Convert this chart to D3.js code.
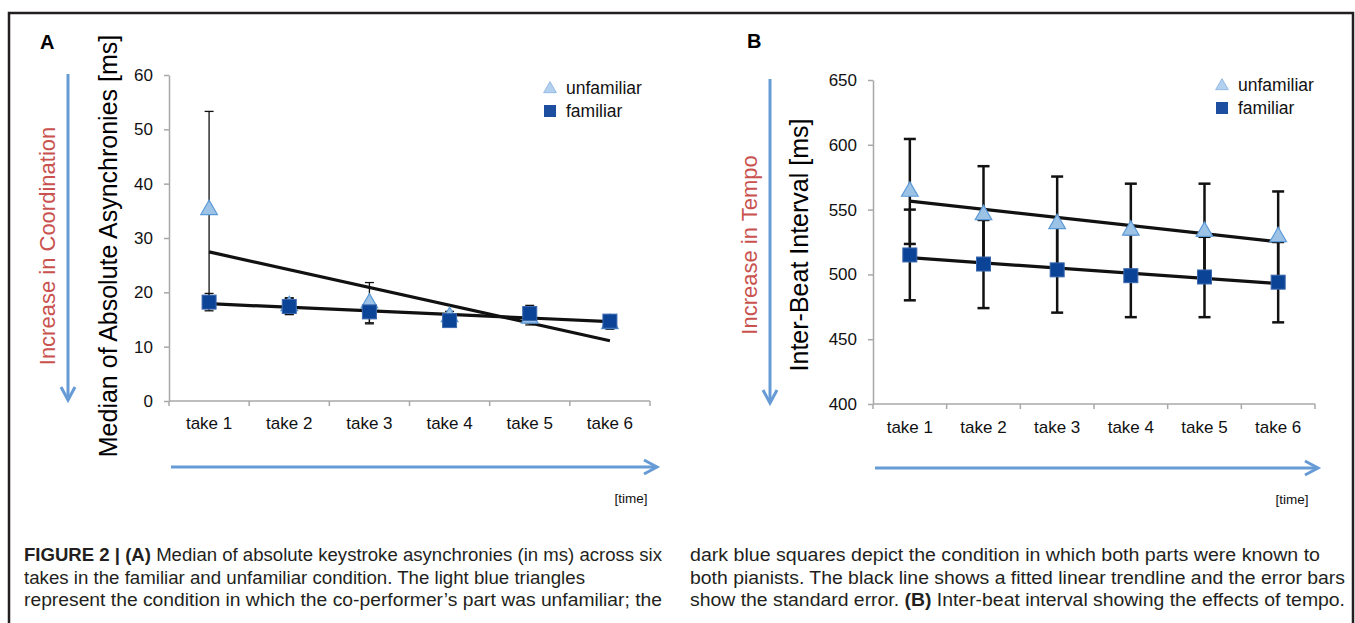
<!DOCTYPE html>
<html>
<head>
<meta charset="utf-8">
<script src="https://cdn.jsdelivr.net/npm/d3@7"></script>
<style>
  body { margin: 0; background: #fff; }
  svg { display: block; font-family: "Liberation Sans", Arial, sans-serif; }
</style>
</head>
<body>
<svg id="fig" width="1355" height="623"></svg>
<script>
// categories
var takes = ["take 1", "take 2", "take 3", "take 4", "take 5", "take 6"];

// panel A: median absolute asynchronies [ms]
var unfamA = [35.2, 17.5, 18.0, 15.5, 15.2, 14.2];
var unfamAErr = [18.1, 1.5, 3.8, 1.0, 1.2, 1.0];
var famA = [18.2, 17.4, 16.4, 14.8, 16.1, 14.7];
var famAErr = [1.6, 1.5, 2.0, 0.8, 1.5, 0.9];
var ticksA = [0, 10, 20, 30, 40, 50, 60];

// panel B: inter-beat interval [ms]
var unfamB = [564, 546, 539, 534, 533, 529];
var unfamBErr = [40.5, 37.5, 36.5, 36, 37, 35];
var famB = [515, 508, 503.5, 499, 498, 494];
var famBErr = [35, 34, 33, 32, 31, 31];
var ticksB = [400, 450, 500, 550, 600, 650];

var captionLeft = [
  [["FIGURE 2 | (A)", true], [" Median of absolute keystroke asynchronies (in ms) across six", false]],
  [["takes in the familiar and unfamiliar condition. The light blue triangles", false]],
  [["represent the condition in which the co-performer\u2019s part was unfamiliar; the", false]]
];
var captionRight = [
  [["dark blue squares depict the condition in which both parts were known to", false]],
  [["both pianists. The black line shows a fitted linear trendline and the error bars", false]],
  [["show the standard error. ", false], ["(B)", true], [" Inter-beat interval showing the effects of tempo.", false]]
];

var darkBlue = "#0b4497";
var lightBlue = "#9cc3e6";
var arrowBlue = "#679bd6";
var red = "#c9524e";
var axisGrey = "#a8a8a8";

var svg = d3.select("#fig");

// frame around the figure
svg.append("path")
    .attr("d", "M9,640 V13 H1353 V640")
    .attr("fill", "none")
    .attr("stroke", "#231f20")
    .attr("stroke-width", 2.5);

function fitLine(vals) {
    var n = vals.length;
    var mx = d3.mean(vals, function (d, i) { return i + 1; });
    var my = d3.mean(vals);
    var sxy = 0, sxx = 0;
    vals.forEach(function (v, i) {
        sxy += (i + 1 - mx) * (v - my);
        sxx += (i + 1 - mx) * (i + 1 - mx);
    });
    var b = sxy / sxx;
    return [my + b * (1 - mx), my + b * (n - mx)];
}

function drawPanel(p) {
    var x = d3.scaleBand().domain(takes).range([p.left, p.right]);
    var y = d3.scaleLinear().domain(p.domain).range([p.bottom, p.top]);
    var cx = function (d) { return x(d) + x.bandwidth() / 2; };
    var g = svg.append("g");

    // panel letter
    g.append("text")
        .attr("x", p.letterX).attr("y", p.letterY)
        .attr("font-size", 20).attr("font-weight", "bold")
        .text(p.letter);

    // y axis
    var ya = g.append("g")
        .attr("transform", "translate(" + p.left + ",0)")
        .call(d3.axisLeft(y).tickValues(p.ticks).tickSize(5).tickSizeOuter(0).tickPadding(11));
    ya.select(".domain").attr("stroke", axisGrey).attr("stroke-width", 1.5);
    ya.selectAll(".tick line").attr("stroke", axisGrey).attr("stroke-width", 1.5);
    ya.selectAll(".tick text")
        .attr("font-size", 17).attr("fill", "#111")
        .attr("font-family", "Liberation Sans, Arial, sans-serif");

    // x axis with ticks on the category boundaries
    g.append("line")
        .attr("x1", p.left).attr("x2", p.right)
        .attr("y1", p.bottom).attr("y2", p.bottom)
        .attr("stroke", axisGrey).attr("stroke-width", 1.5);
    var bounds = takes.map(function (d) { return x(d); }).concat([p.right]);
    g.selectAll(".xtick").data(bounds).enter().append("line")
        .attr("x1", function (d) { return d; }).attr("x2", function (d) { return d; })
        .attr("y1", p.bottom).attr("y2", p.bottom + 5)
        .attr("stroke", axisGrey).attr("stroke-width", 1.5);
    g.selectAll(".xlab").data(takes).enter().append("text")
        .attr("x", cx).attr("y", p.bottom + p.labelDy)
        .attr("text-anchor", "middle").attr("font-size", 17).attr("fill", "#111")
        .text(function (d) { return d; });

    // axis title and red note
    var midY = p.titleY;
    g.append("text")
        .attr("transform", "translate(" + p.titleX + "," + midY + ") rotate(-90)")
        .attr("text-anchor", "middle").attr("font-size", 25).attr("fill", "#000")
        .text(p.title);
    g.append("text")
        .attr("transform", "translate(" + p.noteX + "," + midY + ") rotate(-90)")
        .attr("text-anchor", "middle").attr("font-size", 22).attr("fill", red)
        .text(p.note);

    // direction arrows
    var ax = p.arrowX, ay0 = y.range()[1] - 1, ay1 = y.range()[0] - 1;
    g.append("line").attr("x1", ax).attr("x2", ax).attr("y1", ay0).attr("y2", ay1)
        .attr("stroke", arrowBlue).attr("stroke-width", 3);
    g.append("path")
        .attr("d", "M" + (ax - 7) + "," + (ay1 - 13) + " L" + ax + "," + ay1 + " L" + (ax + 7) + "," + (ay1 - 13))
        .attr("fill", "none").attr("stroke", arrowBlue).attr("stroke-width", 3);
    var hx0 = p.left + 2, hx1 = p.right + p.arrowExtra, hy = p.timeArrowY;
    g.append("line").attr("x1", hx0).attr("x2", hx1).attr("y1", hy).attr("y2", hy)
        .attr("stroke", arrowBlue).attr("stroke-width", 3);
    g.append("path")
        .attr("d", "M" + (hx1 - 13) + "," + (hy - 7) + " L" + hx1 + "," + hy + " L" + (hx1 - 13) + "," + (hy + 7))
        .attr("fill", "none").attr("stroke", arrowBlue).attr("stroke-width", 3);
    g.append("text")
        .attr("x", hx1 - 26).attr("y", hy + 36)
        .attr("text-anchor", "middle").attr("font-size", 13.5).attr("fill", "#111")
        .text("[time]");

    // trendlines
    [p.unfam, p.fam].forEach(function (vals) {
        var f = fitLine(vals);
        g.append("line")
            .attr("x1", cx(takes[0])).attr("y1", y(f[0]))
            .attr("x2", cx(takes[takes.length - 1])).attr("y2", y(f[1]))
            .attr("stroke", "#111").attr("stroke-width", 3.2);
    });

    // error bars
    function errBars(vals, errs) {
        var eb = g.append("g").attr("stroke", "#111").attr("stroke-width", p.errW);
        takes.forEach(function (t, i) {
            var xc = cx(t);
            eb.append("line").attr("x1", xc).attr("x2", xc)
                .attr("y1", y(vals[i] - errs[i])).attr("y2", y(vals[i] + errs[i]));
            [vals[i] - errs[i], vals[i] + errs[i]].forEach(function (v) {
                eb.append("line").attr("x1", xc - p.capW / 2).attr("x2", xc + p.capW / 2)
                    .attr("y1", y(v)).attr("y2", y(v));
            });
        });
    }
    errBars(p.unfam, p.unfamErr);
    errBars(p.fam, p.famErr);

    // markers
    var tri = d3.symbol().type(d3.symbolTriangle).size(120);
    g.selectAll(".tri").data(p.unfam).enter().append("path")
        .attr("d", tri)
        .attr("transform", function (d, i) { return "translate(" + cx(takes[i]) + "," + y(d) + ")"; })
        .attr("fill", lightBlue).attr("stroke", "#5d9bd8").attr("stroke-width", 1.2);
    g.selectAll(".sq").data(p.fam).enter().append("rect")
        .attr("x", function (d, i) { return cx(takes[i]) - 7; })
        .attr("y", function (d) { return y(d) - 7; })
        .attr("width", 14).attr("height", 14)
        .attr("fill", darkBlue).attr("stroke", "#3a67ad").attr("stroke-width", 1);

    // legend
    var lg = g.append("g").attr("transform", "translate(" + p.legX + "," + p.legY + ")");
    lg.append("path").attr("d", d3.symbol().type(d3.symbolTriangle).size(70))
        .attr("transform", "translate(0,1)")
        .attr("fill", "#b3d0ee").attr("stroke", "#93b9e3").attr("stroke-width", 1);
    lg.append("text").attr("x", 16).attr("y", 6).attr("font-size", 17.5).attr("fill", "#111").text("unfamiliar");
    lg.append("rect").attr("x", -6).attr("y", 17).attr("width", 12).attr("height", 12)
        .attr("fill", "#1e4ea0");
    lg.append("text").attr("x", 16).attr("y", 29).attr("font-size", 17.5).attr("fill", "#111").text("familiar");
}

drawPanel({
    letter: "A", letterX: 40, letterY: 49,
    left: 169, right: 650, top: 75, bottom: 401,
    domain: [0, 60], ticks: ticksA, labelDy: 28,
    title: "Median of Absolute Asynchronies [ms]", titleX: 117, titleY: 246,
    note: "Increase in Coordination", noteX: 55,
    arrowX: 68, timeArrowY: 467, arrowExtra: 7,
    unfam: unfamA, unfamErr: unfamAErr, fam: famA, famErr: famAErr,
    errW: 1.3, capW: 9,
    legX: 550, legY: 88
});

drawPanel({
    letter: "B", letterX: 747, letterY: 48,
    left: 873, right: 1315, top: 80, bottom: 404,
    domain: [400, 650], ticks: ticksB, labelDy: 29,
    title: "Inter-Beat Interval [ms]", titleX: 808, titleY: 245,
    note: "Increase in Tempo", noteX: 757,
    arrowX: 770, timeArrowY: 468, arrowExtra: 3,
    unfam: unfamB, unfamErr: unfamBErr, fam: famB, famErr: famBErr,
    errW: 2.5, capW: 12,
    legX: 1222, legY: 85
});

// caption
function captionBlock(lines, x0, widths) {
    lines.forEach(function (parts, i) {
        var t = svg.append("text")
            .attr("x", x0).attr("y", 561 + i * 22.5)
            .attr("font-family", "Liberation Sans Narrow, Liberation Sans, Arial, sans-serif")
            .attr("font-size", 17.5).attr("fill", "#231f20")
            .attr("textLength", widths[i]).attr("lengthAdjust", "spacingAndGlyphs");
        parts.forEach(function (pt) {
            t.append("tspan").attr("font-weight", pt[1] ? "bold" : "normal").text(pt[0]);
        });
    });
}
captionBlock(captionLeft, 24, [638, 561, 638]);
captionBlock(captionRight, 690, [630, 655, 655]);
</script>
</body>
</html>
